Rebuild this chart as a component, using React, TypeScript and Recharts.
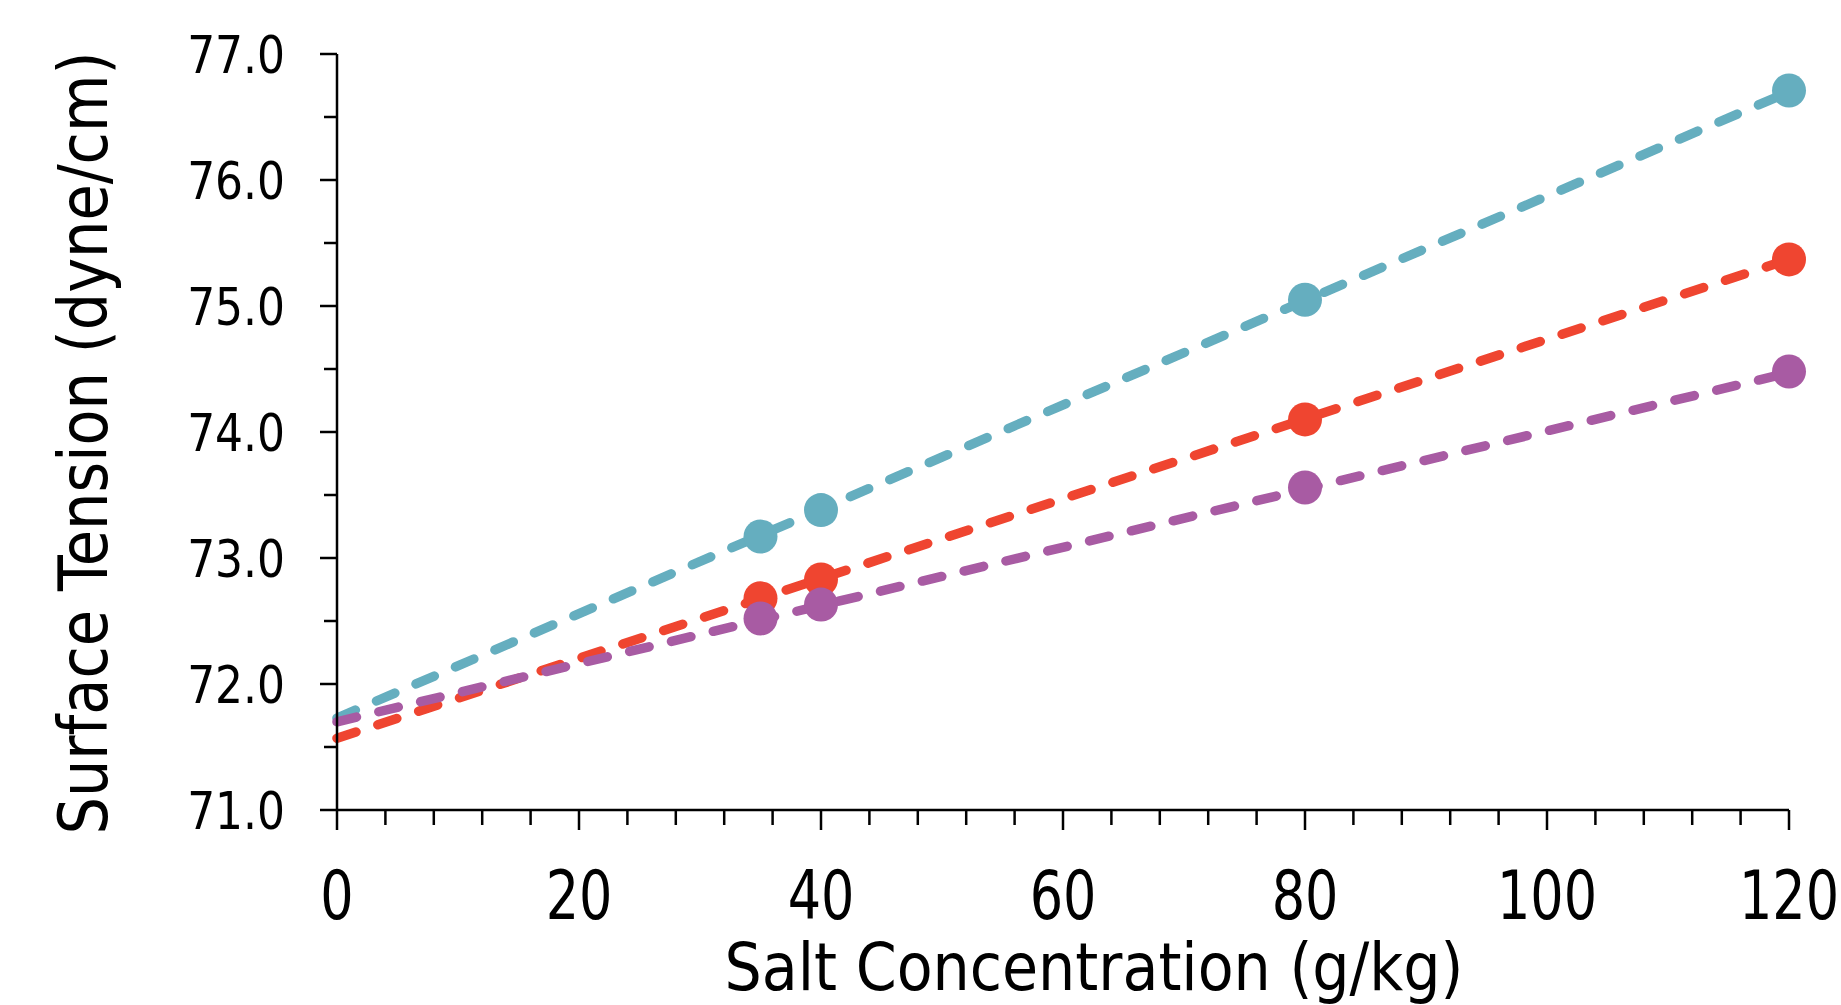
import React from "react";
import { ComposedChart, Line, Scatter, XAxis, YAxis } from "recharts";

document.body.style.margin = "0";
document.body.style.overflow = "hidden";

const concentrations = [35, 40, 80, 120];
const tealValues = [73.17, 73.38, 75.05, 76.71];
const redValues = [72.68, 72.83, 74.1, 75.37];
const purpleValues = [72.52, 72.63, 73.56, 74.48];

const trendX = [0, 120];
const tealTrend = [71.73, 76.7];
const redTrend = [71.57, 75.37];
const purpleTrend = [71.7, 74.47];

const xTicks = [0, 4, 8, 12, 16, 20, 24, 28, 32, 36, 40, 44, 48, 52, 56, 60, 64, 68, 72, 76, 80, 84, 88, 92, 96, 100, 104, 108, 112, 116, 120];
const yTicks = [71, 71.5, 72, 72.5, 73, 73.5, 74, 74.5, 75, 75.5, 76, 76.5, 77];

const TEAL = "#65AEBF";
const RED = "#EF4530";
const PURPLE = "#A85BA3";
const FONT = "'DejaVu Sans Condensed', 'DejaVu Sans', sans-serif";

const toPoints = (xs: number[], ys: number[]) => xs.map((x, i) => ({ x, y: ys[i] }));

const XTick = (props: any) => {
  const { x, y, payload } = props;
  const v = payload.value;
  const major = v % 20 === 0;
  return (
    <g>
      <line x1={x} x2={x} y1={y} y2={y + (major ? 20 : 15)} stroke="#000" strokeWidth={2.5} />
      {major && (
        <text
          transform={`translate(${x} ${y + 109}) scale(0.87 1)`}
          textAnchor="middle"
          fontSize={67}
          fontFamily={FONT}
          fill="#000"
        >
          {v}
        </text>
      )}
    </g>
  );
};

const YTick = (props: any) => {
  const { x, y, payload } = props;
  const v = payload.value;
  const major = Number.isInteger(v);
  return (
    <g>
      <line x1={x - (major ? 17 : 13)} x2={x} y1={y} y2={y} stroke="#000" strokeWidth={2.5} />
      {major && (
        <text
          transform={`translate(${x - 52} ${y + 19}) scale(0.94 1)`}
          textAnchor="end"
          fontSize={52}
          fontFamily={FONT}
          fill="#000"
        >
          {v.toFixed(1)}
        </text>
      )}
    </g>
  );
};

const marker = (color: string) => (p: any) => <circle cx={p.cx} cy={p.cy} r={17} fill={color} />;

const dash = { strokeWidth: 9.5, strokeDasharray: "20 23", strokeLinecap: "round" as const };

export default function App() {
  return (
    <ComposedChart
      width={1841}
      height={1005}
      margin={{ top: 54, right: 52, left: 0, bottom: 0 }}
      style={{ background: "#fff" }}
    >
      <XAxis
        type="number"
        dataKey="x"
        domain={[0, 120]}
        ticks={xTicks}
        interval={0}
        height={195}
        tickSize={0}
        tickMargin={0}
        tickLine={false}
        axisLine={{ stroke: "#000", strokeWidth: 2.5 }}
        tick={<XTick />}
        label={{
          content: () => (
            <text
              x={1094}
              y={990}
              textAnchor="middle"
              fontSize={66}
              fontFamily={FONT}
              textLength={739}
              lengthAdjust="spacingAndGlyphs"
              fill="#000"
            >
              Salt Concentration (g/kg)
            </text>
          ),
        }}
      />
      <YAxis
        type="number"
        dataKey="y"
        domain={[71, 77]}
        ticks={yTicks}
        interval={0}
        width={337}
        tickSize={0}
        tickMargin={0}
        tickLine={false}
        axisLine={{ stroke: "#000", strokeWidth: 2.5 }}
        tick={<YTick />}
        label={{
          content: () => (
            <text
              x={107}
              y={443}
              transform="rotate(-90 107 443)"
              textAnchor="middle"
              fontSize={67}
              fontFamily={FONT}
              textLength={783}
              lengthAdjust="spacingAndGlyphs"
              fill="#000"
            >
              Surface Tension (dyne/cm)
            </text>
          ),
        }}
      />
      <Line data={toPoints(trendX, tealTrend)} dataKey="y" stroke={TEAL} {...dash} dot={false} activeDot={false} isAnimationActive={false} />
      <Line data={toPoints(trendX, redTrend)} dataKey="y" stroke={RED} {...dash} dot={false} activeDot={false} isAnimationActive={false} />
      <Line data={toPoints(trendX, purpleTrend)} dataKey="y" stroke={PURPLE} {...dash} dot={false} activeDot={false} isAnimationActive={false} />
      <Scatter data={toPoints(concentrations, tealValues)} shape={marker(TEAL)} isAnimationActive={false} />
      <Scatter data={toPoints(concentrations, redValues)} shape={marker(RED)} isAnimationActive={false} />
      <Scatter data={toPoints(concentrations, purpleValues)} shape={marker(PURPLE)} isAnimationActive={false} />
    </ComposedChart>
  );
}
